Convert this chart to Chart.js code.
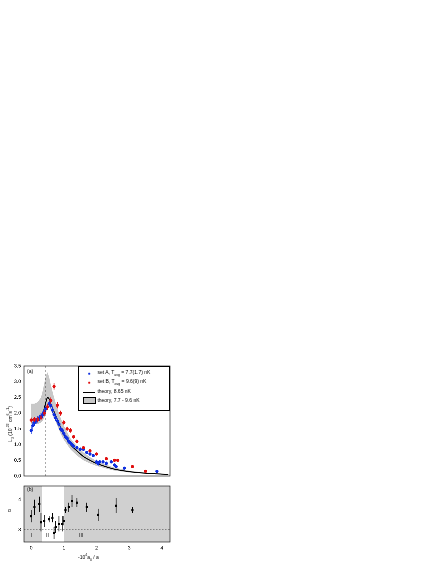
<!DOCTYPE html>
<html><head><meta charset="utf-8">
<script src="https://cdn.jsdelivr.net/npm/chart.js@4"></script>
<style>
body{margin:0;background:#fff;width:436px;height:564px;position:relative;font-family:"Liberation Sans",Arial,sans-serif}
canvas{position:absolute}
.t{position:absolute;font-size:5px;color:#000;white-space:nowrap}
#leg{position:absolute;left:78px;top:366px;width:90px;height:43px;border:0.6px solid #000;background:#fff;font-size:5px}
#leg div{position:absolute;left:3px;white-space:nowrap}
#leg span.m{display:inline-block;width:14px;text-align:center;vertical-align:middle}
</style></head><body>
<canvas id="top" style="left:0;top:358px;width:180px;height:122px"></canvas>
<canvas id="bot" style="left:0;top:482px;width:180px;height:82px"></canvas>
<div id="leg">
 <div style="top:2px"><span class="m" style="color:#1030e0">&#9679;</span> set A, T<sub style="font-size:3.5px">avg</sub> = 7.7(1.7) nK</div>
 <div style="top:11px"><span class="m" style="color:#e01010">&#9679;</span> set B, T<sub style="font-size:3.5px">avg</sub> = 9.6(9) nK</div>
 <div style="top:21px"><span class="m"><span style="display:inline-block;width:12px;border-top:1px solid #000;vertical-align:middle"></span></span> theory, 8.65 nK</div>
 <div style="top:30px"><span class="m"><span style="display:inline-block;width:11px;height:5px;background:#c8c8c8;border:0.5px solid #000;vertical-align:middle"></span></span> theory, 7.7 - 9.6 nK</div>
</div>
<div class="t" style="left:27px;top:368px">(a)</div>
<div class="t" style="left:27px;top:486px">(b)</div>
<div class="t" style="left:31px;top:532px">I</div>
<div class="t" style="left:46px;top:532px">II</div>
<div class="t" style="left:79px;top:532px">III</div>
<div class="t" style="left:1px;top:424px;transform:rotate(-90deg);transform-origin:center;width:10px;text-align:center;line-height:5px"><span style="position:absolute;left:-25px;width:60px">L<sub style="font-size:3.5px">3</sub> (10<sup style="font-size:3.5px">-22</sup> cm<sup style="font-size:3.5px">6</sup>s<sup style="font-size:3.5px">-1</sup>)</span></div>
<div class="t" style="left:8px;top:507px">&#945;</div>
<div class="t" style="left:78px;top:553px">-10<sup style="font-size:3.5px">4</sup>a<sub style="font-size:3.5px">0</sub> / a</div>
<script>
// set A (blue)
var aX = [0.0,0.05,0.1,0.15,0.2,0.25,0.3,0.35,0.4,0.45,0.5,0.55,0.6,0.65,0.7,0.75,0.8,0.85,0.9,0.95,1.0,1.05,1.1,1.15,1.2,1.25,1.3,1.4,1.5,1.6,1.7,1.8,1.9,2.0,2.05,2.1,2.2,2.3,2.45,2.55,2.6,2.85,3.85];
var aY = [1.45,1.6,1.7,1.75,1.8,1.85,1.9,1.95,2.05,2.15,2.2,2.3,2.25,2.1,1.95,1.85,1.75,1.65,1.5,1.45,1.35,1.25,1.2,1.1,1.05,1.0,0.95,0.9,0.85,0.85,0.75,0.7,0.65,0.45,0.4,0.45,0.45,0.4,0.45,0.35,0.3,0.25,0.15];
var aE = [0.12,0.12,0.1,0.1,0.1,0.1,0.1,0.1,0.1,0.1,0.1,0.1,0.1,0.1,0.1,0.1,0.08,0.08,0.08,0.08,0.08,0.07,0.07,0.07,0.07,0.06,0.06,0.06,0.06,0.06,0.05,0.05,0.05,0.07,0.07,0.05,0.05,0.06,0.05,0.05,0.04,0.03,0.03];
// set B (red)
var bX = [0.0,0.1,0.2,0.3,0.4,0.5,0.6,0.7,0.8,0.9,1.0,1.1,1.2,1.3,1.4,1.6,1.8,2.0,2.3,2.55,2.65,3.1,3.5];
var bY = [1.78,1.8,1.8,1.85,2.0,2.2,2.4,2.85,2.25,2.0,1.7,1.5,1.45,1.25,1.1,0.9,0.8,0.7,0.55,0.5,0.5,0.3,0.15];
var bE = [0.08,0.08,0.08,0.08,0.1,0.1,0.1,0.1,0.1,0.08,0.08,0.07,0.07,0.06,0.06,0.05,0.05,0.05,0.04,0.04,0.04,0.03,0.03];
// theory
var thX = [0.0,0.1,0.2,0.3,0.35,0.4,0.45,0.5,0.55,0.6,0.7,0.8,0.9,1.0,1.2,1.4,1.6,1.8,2.0,2.5,3.0,3.5,4.0,4.2];
var thY = [1.8,1.8,1.8,1.85,1.95,2.15,2.35,2.5,2.45,2.3,2.05,1.8,1.55,1.35,1.0,0.8,0.62,0.5,0.4,0.23,0.14,0.09,0.06,0.05];
var hiY = [2.3,2.3,2.35,2.5,2.7,2.95,3.2,3.3,3.15,2.9,2.5,2.15,1.85,1.6,1.2,0.95,0.75,0.6,0.48,0.28,0.17,0.11,0.07,0.06];
var loY = [1.65,1.65,1.65,1.7,1.75,1.85,2.0,2.2,2.2,2.1,1.85,1.6,1.35,1.15,0.85,0.65,0.5,0.4,0.32,0.18,0.11,0.07,0.05,0.04];
var peakX = [0.45];
// alpha
var alX = [0.0,0.1,0.25,0.3,0.4,0.55,0.65,0.7,0.75,0.85,0.95,1.0,1.05,1.15,1.25,1.4,1.7,2.05,2.6,3.1];
var alY = [3.45,3.75,3.85,3.25,3.3,3.35,3.4,2.9,3.1,3.2,3.2,3.3,3.65,3.75,3.95,3.9,3.75,3.5,3.8,3.65];
var alE = [0.2,0.25,0.25,0.3,0.2,0.1,0.15,0.2,0.2,0.25,0.25,0.15,0.1,0.15,0.2,0.15,0.15,0.2,0.25,0.1];
var whiteRegion = [0.33,1.0];
var xTicks = [0,1,2,3,4];
var yTicksTop = [0,0.5,1,1.5,2,2.5,3,3.5];
var yTicksBot = [3,4];

Chart.defaults.font.family = '"Liberation Sans", Arial, sans-serif';
function pts(x,y){return x.map(function(v,i){return {x:v,y:y[i]};});}
var errBars = {id:'errBars', afterDatasetsDraw:function(c){
  var ctx=c.ctx, xs=c.scales.x, ys=c.scales.y;
  c.data.datasets.forEach(function(d,i){
    if(!d.err) return;
    ctx.save(); ctx.strokeStyle=d.backgroundColor; ctx.lineWidth=0.8;
    d.data.forEach(function(p,j){
      var px=xs.getPixelForValue(p.x);
      ctx.beginPath(); ctx.moveTo(px,ys.getPixelForValue(p.y-d.err[j])); ctx.lineTo(px,ys.getPixelForValue(p.y+d.err[j])); ctx.stroke();
    });
    ctx.restore();
  });
}};
var vline = {id:'vline', afterDatasetsDraw:function(c){
  var ctx=c.ctx, xs=c.scales.x, a=c.chartArea;
  ctx.save(); ctx.setLineDash([2,2]); ctx.strokeStyle='#000'; ctx.lineWidth=0.6;
  peakX.forEach(function(v){var px=xs.getPixelForValue(v);ctx.beginPath();ctx.moveTo(px,a.top);ctx.lineTo(px,a.bottom);ctx.stroke();});
  ctx.restore();
}};
var shade = {id:'shade', beforeDatasetsDraw:function(c){
  var ctx=c.ctx, xs=c.scales.x, ys=c.scales.y, a=c.chartArea;
  ctx.save(); ctx.fillStyle='#d0d0d0'; ctx.fillRect(a.left,a.top,a.width,a.height);
  var l=xs.getPixelForValue(whiteRegion[0]), r=xs.getPixelForValue(whiteRegion[1]);
  ctx.fillStyle='#fff'; ctx.fillRect(l,a.top,r-l,a.height);
  ctx.setLineDash([1.5,1.5]); ctx.strokeStyle='#000'; ctx.lineWidth=0.6;
  var py=ys.getPixelForValue(3); ctx.beginPath(); ctx.moveTo(a.left,py); ctx.lineTo(a.right,py); ctx.stroke();
  ctx.restore();
}};
var frame = {id:'frame', afterDraw:function(c){
  var a=c.chartArea, ctx=c.ctx; ctx.save(); ctx.strokeStyle='#000'; ctx.lineWidth=0.8;
  ctx.strokeRect(a.left,a.top,a.width,a.height); ctx.restore();
}};
function setTicks(list){return function(s){s.ticks=list.map(function(v){return {value:v};});};}
function axes(ymin,ymax,yt,showX,ylab){
  return {
    x:{type:'linear',min:-0.22,max:4.25,afterBuildTicks:setTicks(xTicks),
       ticks:{display:showX,font:{size:5},color:'#000',padding:1,maxRotation:0},
       grid:{display:false,drawTicks:true,tickLength:2,color:'#000'},border:{display:false},
       afterFit:function(s){s.height=showX?22:0;}},
    y:{min:ymin,max:ymax,afterBuildTicks:setTicks(yt),
       ticks:{font:{size:5},color:'#000',padding:1,autoSkip:false,
              callback:function(v){return ylab?v.toFixed(1):v;}},
       grid:{display:false,drawTicks:true,tickLength:2,color:'#000'},border:{display:false},
       afterFit:function(s){s.width=24;}}
  };
}
var base = {responsive:false,animation:false,devicePixelRatio:4,plugins:{legend:{display:false},tooltip:{enabled:false}}};

var ct=document.getElementById('top'); ct.width=180; ct.height=122;
new Chart(ct,{type:'scatter',data:{datasets:[
  {data:pts(thX,hiY),showLine:true,borderWidth:0,pointRadius:0,fill:false,backgroundColor:'#c8c8c8',order:10},
  {data:pts(thX,loY),showLine:true,borderWidth:0,pointRadius:0,fill:'-1',backgroundColor:'#c8c8c8',order:9},
  {data:pts(thX,thY),showLine:true,borderColor:'#000',borderWidth:1,pointRadius:0,tension:0.3,order:5},
  {data:pts(aX,aY),err:aE,backgroundColor:'#1030e0',borderWidth:0,pointRadius:1.6,order:2},
  {data:pts(bX,bY),err:bE,backgroundColor:'#e01010',borderWidth:0,pointRadius:1.6,order:1}
]},options:Object.assign({},base,{layout:{padding:{top:8,right:10,bottom:0,left:0}},scales:axes(0,3.5,yTicksTop,false,true)}),
plugins:[errBars,vline,frame]});

var cb=document.getElementById('bot'); cb.width=180; cb.height=82;
new Chart(cb,{type:'scatter',data:{datasets:[
  {data:pts(alX,alY),err:alE,backgroundColor:'#000',borderWidth:0,pointRadius:1.5,pointStyle:'rect'}
]},options:Object.assign({},base,{layout:{padding:{top:2,right:10,bottom:0,left:0}},scales:axes(2.6,4.45,yTicksBot,true,false)}),
plugins:[shade,errBars,frame]});
</script>
</body></html>
